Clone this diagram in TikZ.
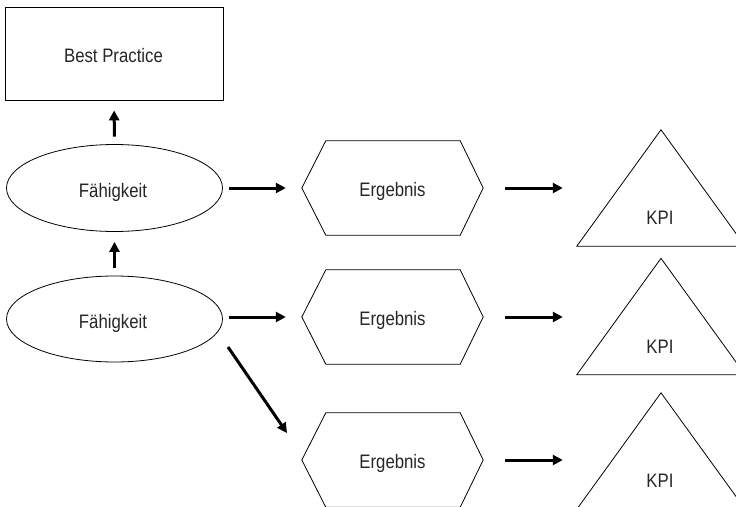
\documentclass[tikz,border=0pt]{standalone}
\usepackage{fontspec}
\setmainfont{Liberation Sans}[FakeStretch=0.86]
\usetikzlibrary{arrows.meta,calc,shapes.geometric}

\tikzset{
  label text/.style={font=\fontsize{19.5}{22}\selectfont, text=black!85, inner sep=0pt,
    text height=14pt, text depth=0pt},
  outline/.style={draw=black, line width=0.8pt},
  boxnode/.style={outline, label text, rectangle, minimum width=218pt, minimum height=93pt},
  ovalnode/.style={outline, label text, ellipse, minimum width=216pt, minimum height=87pt},
  hexframe/.style={label text, rectangle, minimum width=181pt, minimum height=94pt},
  triframe/.style={rectangle, inner sep=0pt, minimum width=168pt, minimum height=116pt},
  flow/.style={line width=3pt, -{Triangle[length=10pt,width=10pt]}},
}

\begin{document}
\begin{tikzpicture}[x=1pt, y=-1pt]
  \useasboundingbox (0,0) rectangle (736,506);

  % left column
  \node[boxnode]  (bp) at (114,53.5) {};
  \node[label text] (bpt) at (113.5,55) {Best Practice};
  \node[ovalnode] (e1) at (114.5,188) {};
  \node[label text] (e1t) at (113,190) {Fähigkeit};
  \node[ovalnode, minimum height=86pt] (e2) at (114.5,319) {};
  \node[label text] (e2t) at (113,321) {Fähigkeit};

  % results (hexagons)
  \node[hexframe] (h1) at (392.5,188) {};
  \node[hexframe] (h2) at (392.5,317) {};
  \node[hexframe] (h3) at (392.5,460) {};
  \foreach \h in {h1,h2,h3}{
    \draw[outline] (\h.west) -- ($(\h.north west)+(24,0)$) -- ($(\h.north east)+(-23,0)$)
      -- (\h.east) -- ($(\h.south east)+(-23,0)$) -- ($(\h.south west)+(24,0)$) -- cycle;
    \node[label text] (\h t) at ($(\h.center)+(0,1.5)$) {Ergebnis};
  }

  % KPI triangles
  \node[triframe] (t1) at (661,188) {};
  \node[triframe] (t2) at (661,316.5) {};
  \node[triframe] (t3) at (661,451) {};
  \foreach \t/\k in {t1/k1,t2/k2,t3/k3}{
    \draw[outline] (\t.north) -- (\t.south east) -- (\t.south west) -- cycle;
    \node[label text] (\k) at ($(\t.south)+(-1,-28.5)$) {KPI};
  }

  % connectors
  \draw[flow, shorten <=7.5pt, shorten >=10pt] (e1.north) -- (bp.south);
  \draw[flow, shorten <=8pt, shorten >=10pt] (e2.north) -- (e1.south);

  \draw[flow, shorten <=6.5pt, shorten >=16pt] (e1.east) -- (h1.west);
  \draw[flow, shorten <=6.5pt, shorten >=16pt] (e2.east |- h2.west) -- (h2.west);

  \coordinate (dstart) at (228,347);
  \coordinate (dend) at (287,433);
  \draw[flow] (dstart) -- (dend);

  \draw[flow, shorten <=22pt, shorten >=14pt] (h1.east) -- (t1.west |- h1.east);
  \draw[flow, shorten <=22pt, shorten >=14pt] (h2.east) -- (t2.west |- h2.east);
  \draw[flow, shorten <=22pt, shorten >=14pt] (h3.east) -- (t3.west |- h3.east);
\end{tikzpicture}
\end{document}
